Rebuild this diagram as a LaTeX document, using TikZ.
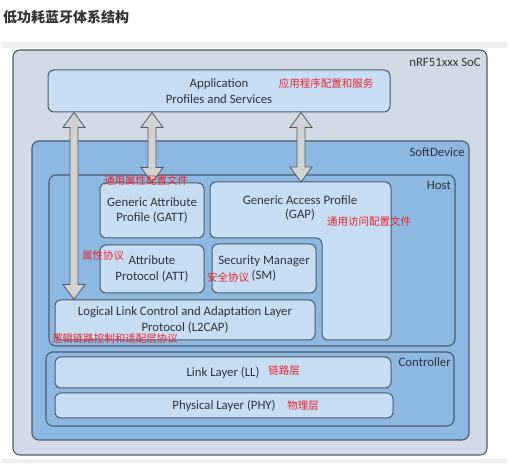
\documentclass[tikz,border=0pt]{standalone}
\usepackage{fontspec}
\setmainfont{Carlito}
\newfontfamily\cjk{Noto Sans CJK SC}
\usetikzlibrary{calc, positioning}

\definecolor{socfill}{HTML}{D2DBE5}
\definecolor{sdfill}{HTML}{8CB8E2}
\definecolor{boxfill}{HTML}{C7DDF3}
\definecolor{edge}{HTML}{4E5B68}
\definecolor{txt}{HTML}{30343A}
\definecolor{cnred}{HTML}{E8262B}
\definecolor{arrowfill}{HTML}{D2D2D2}
\definecolor{band}{HTML}{EFEFEF}
\definecolor{titlecol}{HTML}{333333}

\begin{document}
\begin{tikzpicture}[x=1pt, y=-1pt,
        layer/.style={rectangle, draw=edge, line width=1.1pt, rounded corners=7pt, inner sep=0pt},
        blk/.style={rectangle, draw=edge, fill=boxfill, line width=1pt, rounded corners=6pt, inner sep=0pt, align=center, text=txt, font=\fontsize{12.8}{15.5}\selectfont},
        tag/.style={anchor=east, inner sep=0pt, text=txt, font=\fontsize{12.8}{15}\selectfont},
        cn/.style={inner sep=0pt, text=cnred, font=\cjk\fontsize{10.5}{12}\selectfont},
        blockarrow/.style={draw=edge, fill=arrowfill, line width=0.8pt,
            to path={let \p1=(\tikztostart), \p2=(\tikztotarget) in
                (\x1,\y1) -- (\x1-11pt,\y1-15pt) -- (\x1-4pt,\y1-15pt) -- (\x1-4pt,\y2+15pt)
                -- (\x1-11pt,\y2+15pt) -- (\x1,\y2) -- (\x1+11pt,\y2+15pt) -- (\x1+4pt,\y2+15pt)
                -- (\x1+4pt,\y1-15pt) -- (\x1+11pt,\y1-15pt) -- cycle}}
    ]
        \useasboundingbox (0,0) rectangle (520,470);

        % Frame bands and title
        \fill[band] (2,42) rectangle (507,48);
        \fill[band] (2,459) rectangle (507,463);
        \node[anchor=west, inner sep=0pt, text=titlecol, font=\cjk\bfseries\fontsize{14}{16}\selectfont] (title) at (3,17) {低功耗蓝牙体系结构};

        % Nested layers: SoC, SoftDevice, Host, Controller
        \node[layer, fill=socfill, minimum width=474pt, minimum height=405pt] (soc) at (250,252.5) {};
        \node[tag] (soclbl) at (481,62) {nRF51xxx SoC};
        \node[layer, fill=sdfill, minimum width=437pt, minimum height=299pt] (sd) at (250.5,290.5) {};
        \node[tag] (sdlbl) at (465,152) {SoftDevice};
        \node[layer, fill=sdfill, minimum width=406pt, minimum height=171pt] (host) at (252,260.5) {};
        \node[tag] (hostlbl) at (451,185) {Host};
        \node[layer, fill=sdfill, minimum width=408pt, minimum height=74pt] (ctrl) at (250,389) {};
        \node[tag] (ctrllbl) at (451,362) {Controller};

        % Application
        \node[blk, minimum width=342pt, minimum height=42pt] (app) at (219,91) {Application\\Profiles and Services};

        % Host blocks
        \node[blk, minimum width=104pt, minimum height=55pt] (gatt) at (152,210.5) {Generic Attribute\\Profile (GATT)};
        \node[blk, minimum width=104pt, minimum height=48pt] (att) at (152,269) {Attribute\\Protocol (ATT)};
        \draw[draw=edge, fill=boxfill, line width=1pt, rounded corners=6pt]
            (210,182) -- (391,182) -- (391,340) -- (322,340) -- (322,238) -- (210,238) -- cycle;
        \node[align=center, inner sep=0pt, text=txt, font=\fontsize{12.8}{14.5}\selectfont] (gap) at (300,208) {Generic Access Profile\\(GAP)};
        \coordinate (gaptop) at (301,182);
        \node[blk, minimum width=104pt, minimum height=49pt] (sm) at (264,268.5) {Security Manager\\(SM)};
        \node[blk, minimum width=260pt, minimum height=40pt] (l2cap) at (185,320) {Logical Link Control and Adaptation Layer\\Protocol (L2CAP)};

        % Controller blocks
        \node[blk, minimum width=336pt, minimum height=31pt] (ll) at (223,372.5) {Link Layer (LL)};
        \node[blk, minimum width=338pt, minimum height=25pt] (phy) at (224,405.5) {Physical Layer (PHY)};

        % Data paths
        \draw[blockarrow] (app.south -| 74,0) to (l2cap.north -| 74,0);
        \draw[blockarrow] (app.south -| gatt.north) to (gatt.north);
        \draw[blockarrow] (app.south -| gaptop) to (gaptop);

        % Chinese notes
        \node[cn] (appcn) at (326,84) {应用程序配置和服务};
        \node[cn] (gattcn) at (146,181) {通用属性配置文件};
        \node[cn] (attcn) at (103,256) {属性协议};
        \node[cn] (smcn) at (228,277) {安全协议};
        \node[cn] (gapcn) at (369,222) {通用访问配置文件};
        \node[cn] (l2capcn) at (115,339) {逻辑链路控制和适配层协议};
        \node[cn] (llcn) at (284,371) {链路层};
        \node[cn] (phycn) at (303,406) {物理层};

    \end{tikzpicture}
\end{document}
